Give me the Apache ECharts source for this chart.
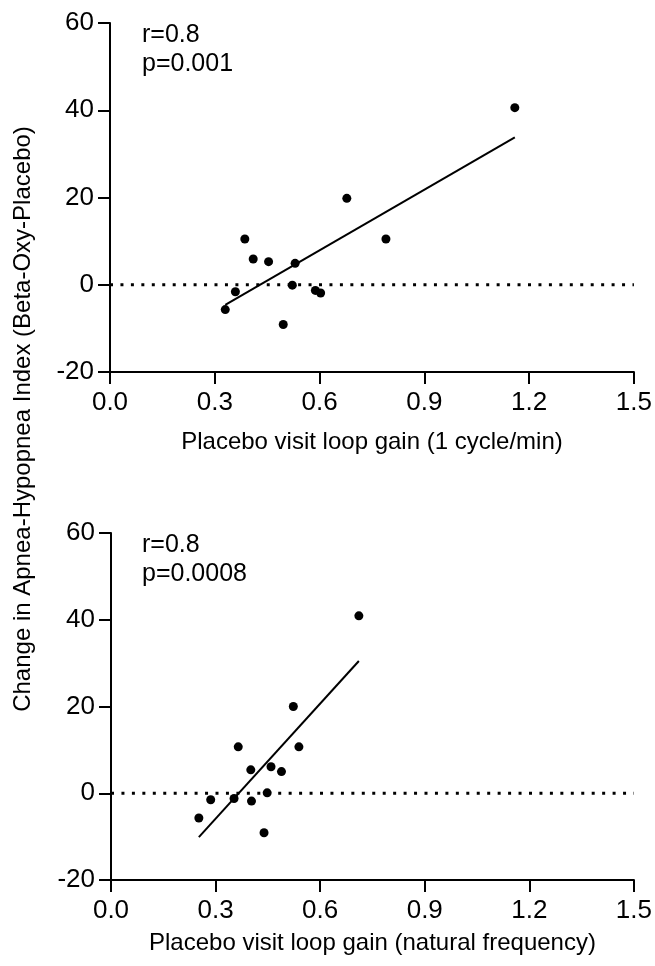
<!DOCTYPE html>
<html>
<head>
<meta charset="utf-8">
<script src="https://cdn.jsdelivr.net/npm/echarts@6/dist/echarts.min.js"></script>
<style>html,body{margin:0;padding:0;background:#fff;}#c{width:655px;height:966px;}</style>
</head>
<body>
<div id="c"></div>
<script>
// Top panel: loop gain at 1 cycle/min vs change in AHI
var topX = [1.159, 0.678, 0.790, 0.386, 0.410, 0.454, 0.530, 0.522, 0.359, 0.588, 0.603, 0.330, 0.496];
var topY = [40.6, 19.8, 10.5, 10.5, 5.9, 5.3, 4.9, -0.1, -1.6, -1.3, -1.9, -5.7, -9.1];
var topFitX = [0.330, 1.159];
var topFitY = [-4.6, 33.8];
// Bottom panel: loop gain at natural frequency vs change in AHI
var botX = [0.711, 0.523, 0.539, 0.365, 0.401, 0.459, 0.489, 0.448, 0.286, 0.353, 0.403, 0.252, 0.439];
var botY = [40.9, 20.0, 10.7, 10.7, 5.4, 6.1, 5.0, 0.1, -1.5, -1.2, -1.8, -5.7, -9.1];
var botFitX = [0.252, 0.711];
var botFitY = [-10.1, 30.5];
var refX = [0, 1.5];
var refY = [0, 0];
var xTicks = ['0.0', '0.3', '0.6', '0.9', '1.2', '1.5'];
var topStats = ['r=0.8', 'p=0.001'];
var botStats = ['r=0.8', 'p=0.0008'];
var xTitleTop = 'Placebo visit loop gain (1 cycle/min)';
var xTitleBot = 'Placebo visit loop gain (natural frequency)';
var yTitle = 'Change in Apnea-Hypopnea Index (Beta-Oxy-Placebo)';

var FONT = 'Liberation Sans, Arial, Helvetica, sans-serif';
function pairs(xs, ys) { return xs.map(function (x, i) { return [x, ys[i]]; }); }

function xAxis(idx, name, gap) {
  return {
    type: 'value', gridIndex: idx, min: 0, max: 1.5, interval: 0.3,
    name: name, nameLocation: 'middle', nameGap: gap,
    nameTextStyle: { fontFamily: FONT, fontSize: 24, color: '#000' },
    axisLine: { onZero: false, lineStyle: { color: '#000', width: 2 } },
    axisTick: { show: true, length: 12, lineStyle: { color: '#000', width: 2 } },
    axisLabel: { fontFamily: FONT, fontSize: 26, color: '#000', margin: 18,
      formatter: function (v) { return xTicks[Math.round(v / 0.3)]; } },
    splitLine: { show: false }
  };
}
function yAxis(idx) {
  return {
    type: 'value', gridIndex: idx, min: -20, max: 60, interval: 20,
    axisLine: { onZero: false, lineStyle: { color: '#000', width: 2 } },
    axisTick: { show: true, length: 12, lineStyle: { color: '#000', width: 2 } },
    axisLabel: { fontFamily: FONT, fontSize: 26, color: '#000', margin: 16 },
    splitLine: { show: false }
  };
}
function panelSeries(idx, xs, ys, fx, fy) {
  return [
    { type: 'line', xAxisIndex: idx, yAxisIndex: idx, data: pairs(refX, refY), symbol: 'none', silent: true,
      lineStyle: { color: '#000', width: 3, type: [3, 7.45], cap: 'butt' }, z: 2 },
    { type: 'line', xAxisIndex: idx, yAxisIndex: idx, data: pairs(fx, fy), symbol: 'none', silent: true,
      lineStyle: { color: '#000', width: 2 }, z: 3 },
    { type: 'scatter', xAxisIndex: idx, yAxisIndex: idx, data: pairs(xs, ys), symbol: 'circle', symbolSize: 9,
      itemStyle: { color: '#000', opacity: 1 }, z: 4 }
  ];
}

var chart = echarts.init(document.getElementById('c'), null, { renderer: 'canvas' });
chart.setOption({
  backgroundColor: '#fff',
  animation: false,
  grid: [
    { left: 110, width: 525, top: 23, height: 349 },
    { left: 111, width: 525, top: 533, height: 347 }
  ],
  xAxis: [xAxis(0, xTitleTop, 58), xAxis(1, xTitleBot, 51)],
  yAxis: [yAxis(0), yAxis(1)],
  title: [
    { text: topStats.join('\n'), left: 137, top: 16,
      textStyle: { fontFamily: FONT, fontSize: 25, fontWeight: 'normal', color: '#000', lineHeight: 29 } },
    { text: botStats.join('\n'), left: 137, top: 526,
      textStyle: { fontFamily: FONT, fontSize: 25, fontWeight: 'normal', color: '#000', lineHeight: 29 } }
  ],
  graphic: [
    { type: 'text', x: 23, y: 419, rotation: Math.PI / 2,
      style: { text: yTitle, fontFamily: FONT, fontSize: 24, fill: '#000', align: 'center', verticalAlign: 'middle' } }
  ],
  series: panelSeries(0, topX, topY, topFitX, topFitY).concat(panelSeries(1, botX, botY, botFitX, botFitY))
});
</script>
</body>
</html>
